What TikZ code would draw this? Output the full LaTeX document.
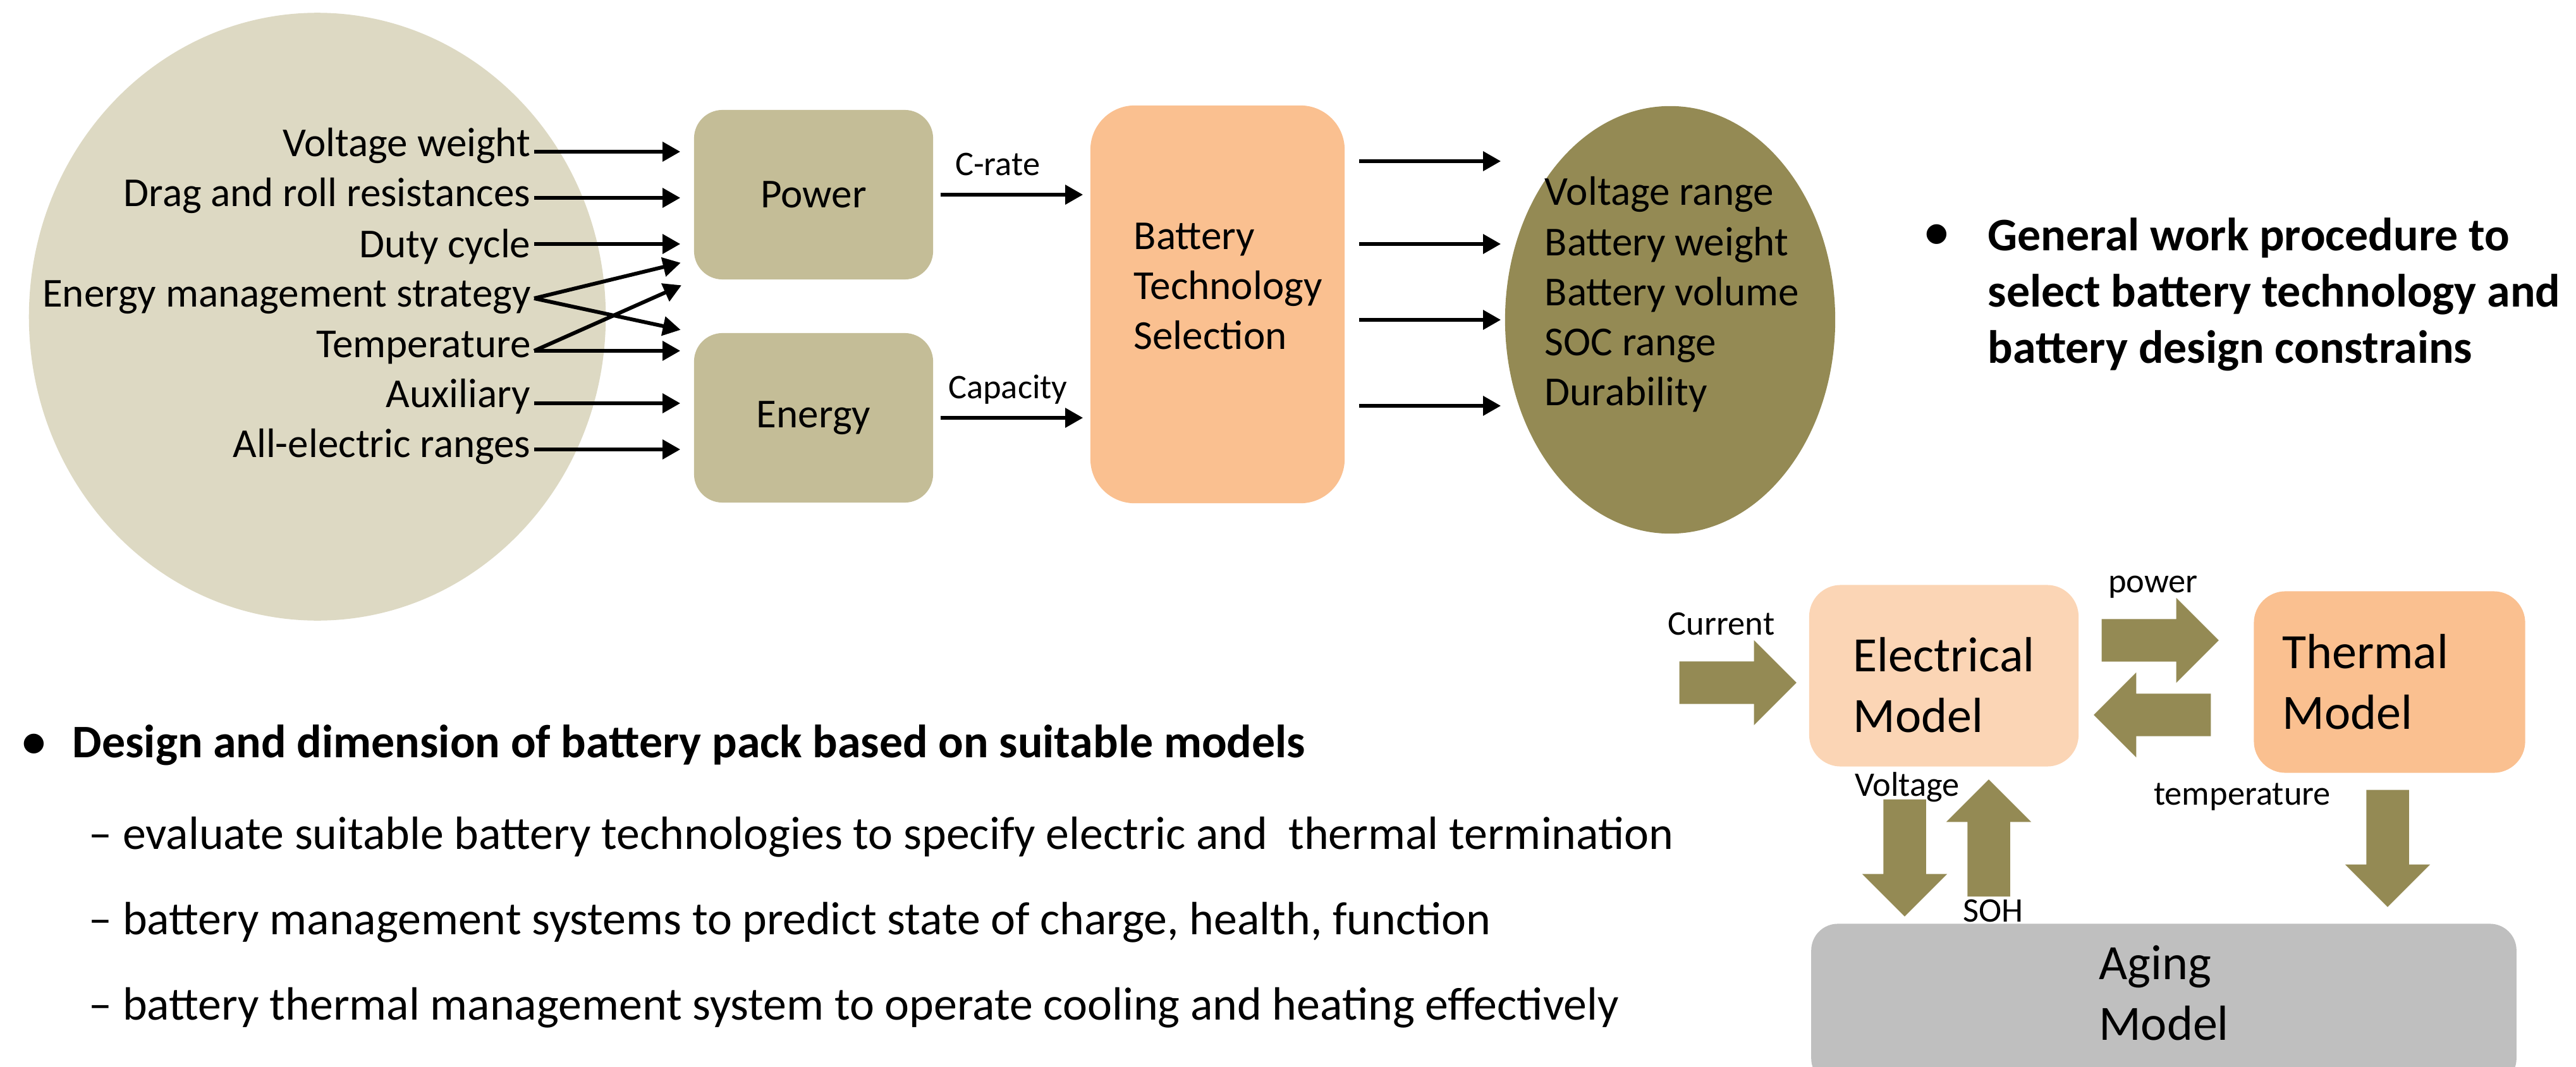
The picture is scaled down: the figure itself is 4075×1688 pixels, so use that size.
\documentclass[tikz,border=0pt]{standalone}
\usepackage{fontspec}
\setmainfont{Carlito}
\usetikzlibrary{shapes.geometric,shapes.arrows,arrows.meta}

\definecolor{bgtan}{HTML}{DDD9C3}
\definecolor{reqtan}{HTML}{C4BD97}
\definecolor{selpeach}{HTML}{FAC090}
\definecolor{elpeach}{HTML}{FBD5B5}
\definecolor{olivebr}{HTML}{948A54}
\definecolor{aggray}{HTML}{BFBFBF}

\begin{document}
\begin{tikzpicture}[
  x=0.01cm, y=-0.01cm,
  inell/.style={ellipse, fill=bgtan, minimum width=9.12cm, minimum height=9.61cm, inner sep=0pt},
  outell/.style={ellipse, fill=olivebr, minimum width=5.22cm, minimum height=6.76cm, inner sep=0pt},
  factor/.style={anchor=base east, inner xsep=0.05cm, inner ysep=0pt, font=\fontsize{18.5}{22.5}\selectfont},
  listtxt/.style={inner sep=0pt, align=left, font=\fontsize{18.5}{22.5}\selectfont},
  inarr/.style={line width=0.06cm, -{Triangle[length=0.28cm,width=0.3cm]}, shorten >=0.21cm},
  outarr/.style={inarr, shorten <=0.22cm, shorten >=0.06cm},
  reqbox/.style={rectangle, rounded corners=0.45cm, fill=reqtan, minimum width=3.78cm, minimum height=2.68cm, font=\fontsize{18.5}{22.5}\selectfont},
  selbox/.style={rectangle, rounded corners=0.7cm, fill=selpeach, minimum width=4.02cm, minimum height=6.29cm},
  model/.style={rectangle, rounded corners=0.5cm, minimum width=4.26cm, minimum height=2.87cm, align=left, font=\fontsize{22.2}{27.3}\selectfont},
  flowlbl/.style={inner sep=0pt, text depth=0pt, font=\fontsize{15.5}{19}\selectfont},
  blockarr/.style={single arrow, fill=olivebr, minimum height=1.85cm, single arrow head extend=0.335cm, single arrow tip angle=90, inner xsep=0pt, inner ysep=0.33cm, anchor=tail},
  bultxt/.style={inner sep=0pt, font=\fontsize{21}{25.3}\selectfont}
]
  \useasboundingbox (0,0) rectangle (4075,1688);
  \clip (0,0) rectangle (4075,1688);

  % requirements and the two sizing criteria
  \node[inell] (ie) at (502,501) {};
  \node[factor] (vw) at (845,248) {Voltage weight};
  \node[factor] (drag) at (845,327) {Drag and roll resistances};
  \node[factor] (duty) at (845,407) {Duty cycle};
  \node[factor] (ems) at (845,485) {Energy management strategy};
  \node[factor] (tmp) at (845,565) {Temperature};
  \node[factor] (aux) at (845,644) {Auxiliary};
  \node[factor] (aer) at (845,723) {All-electric ranges};

  \node[reqbox] (pw) at (1287,308) {Power};
  \node[reqbox] (en) at (1287,661) {Energy};

  \draw[inarr] ([yshift=0.08cm]vw.base east) coordinate (vwo) -- (vwo -| pw.west);
  \draw[inarr] ([yshift=0.14cm]drag.base east) coordinate (drago) -- (drago -| pw.west);
  \draw[inarr] ([yshift=0.21cm]duty.base east) coordinate (dutyo) -- (dutyo -| pw.west);
  \draw[inarr] ([yshift=0.13cm]ems.base east) coordinate (emso) -- ([yshift=0.32cm]pw.south west);
  \draw[inarr] (emso) -- (en.north west);
  \draw[inarr] ([yshift=0.1cm]tmp.base east) coordinate (tmpo) -- (pw.south west);
  \draw[inarr] (tmpo) -- (tmpo -| en.west);
  \draw[inarr] ([yshift=0.06cm]aux.base east) coordinate (auxo) -- (auxo -| en.west);
  \draw[inarr] ([yshift=0.12cm]aer.base east) coordinate (aero) -- (aero -| en.west);

  % technology selection and its outputs
  \node[selbox] (bt) at (1926,481.5) {};
  \node[listtxt, anchor=north west] (btxt) at (1793,352) {Battery\\Technology\\Selection};

  \draw[inarr, shorten <=0.11cm, shorten >=0.11cm] (pw.east) -- (pw.east -| bt.west)
    node[flowlbl, pos=0.41, above=0.27cm] (crate) {C-rate};
  \draw[inarr, shorten <=0.11cm, shorten >=0.11cm] (en.east) -- (en.east -| bt.west)
    node[flowlbl, pos=0.475, above=0.27cm] (cap) {Capacity};

  \node[outell] (oe) at (2642,506) {};
  \node[listtxt, anchor=north west] (otxt) at (2443,279) {Voltage range\\Battery weight\\Battery volume\\SOC range\\Durability};

  \draw[outarr] (bt.east |- 0,255) -- (oe.west |- 0,255);
  \draw[outarr] (bt.east |- 0,386) -- (oe.west |- 0,386);
  \draw[outarr] (bt.east |- 0,506) -- (oe.west |- 0,506);
  \draw[outarr] (bt.east |- 0,642) -- (oe.west |- 0,642);

  % bullet texts
  \node[bultxt, font=\fontsize{21}{25.3}\bfseries] (gbul) at (3064,373) {\textbullet};
  \node[bultxt, font=\fontsize{21}{25.3}\bfseries, align=left, anchor=north west] (gtxt) at (3144,344)
    {General work procedure to\\select battery technology and\\battery design constrains};

  \node[bultxt, font=\fontsize{21}{25.3}\bfseries] (dbul) at (54,1179) {\textbullet};
  \node[bultxt, font=\fontsize{21}{25.3}\bfseries, anchor=base west] (dtxt) at (114,1198)
    {Design and dimension of battery pack based on suitable models};
  \node[bultxt, anchor=base west] (sub1) at (140,1343)
    {– evaluate suitable battery technologies to specify electric and\ \ thermal termination};
  \node[bultxt, anchor=base west] (sub2) at (140,1478)
    {– battery management systems to predict state of charge, health, function};
  \node[bultxt, anchor=base west] (sub3) at (140,1613)
    {– battery thermal management system to operate cooling and heating effectively};

  % coupled battery models
  \node[model, fill=elpeach, text height=1.8cm] (el) at (3075,1069) {Electrical\\Model};
  \node[model, fill=selpeach, text width=3.39cm, inner xsep=0.45cm] (th) at (3780,1079) {Thermal\\Model};
  \node[model, fill=aggray, rounded corners=0.42cm, minimum width=11.15cm, minimum height=2.55cm, text depth=0.36cm] (ag) at (3423,1589) {Aging\\Model};

  \node[blockarr] (curarr) at (2656,1080) {};
  \node[blockarr] (powarr) at (3324,1013) {};
  \node[blockarr, rotate=180] (tmparr) at (3498,1131) {};
  \node[blockarr, rotate=-90] (voltarr) at (3013,1264) {};
  \node[blockarr, rotate=90] (soharr) at (3146,1419) {};
  \node[blockarr, rotate=-90] (tdarr) at (3777,1249) {};

  \node[flowlbl, anchor=base] (lcur) at (2723,1004) {Current};
  \node[flowlbl, anchor=base] (lpow) at (3406,937) {power};
  \node[flowlbl, anchor=base] (ltmp) at (3547,1273) {temperature};
  \node[flowlbl, anchor=base] (lvolt) at (3017,1259) {Voltage};
  \node[flowlbl, anchor=base] (lsoh) at (3153,1458) {SOH};

\end{tikzpicture}
\end{document}
